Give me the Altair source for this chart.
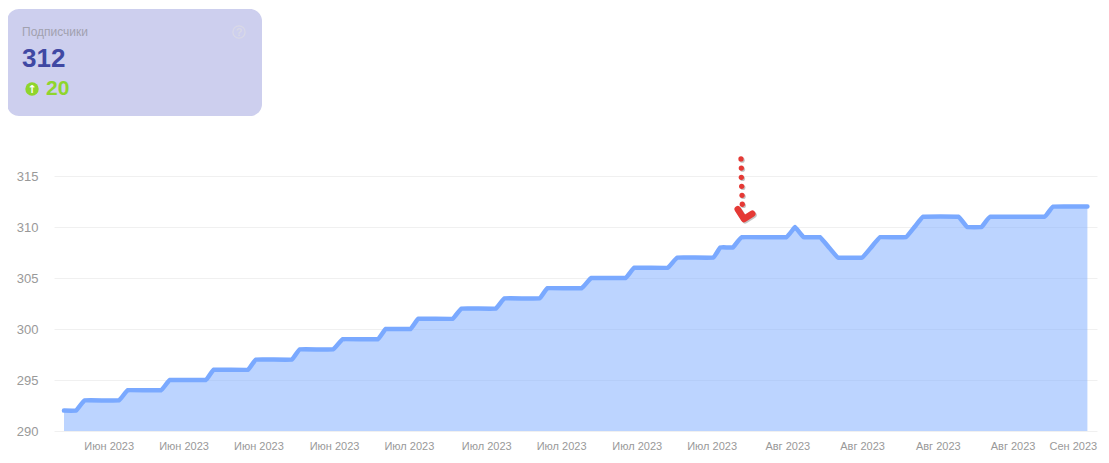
import altair as alt
import pandas as pd

# Series vertices: day position and subscriber count
days = [-0.0, 1.4, 2.4, 6.4, 7.4, 11.3, 12.3, 16.5, 17.4, 21.4, 22.3, 26.5, 27.4, 31.3, 32.4,
        36.5, 37.4, 40.3, 41.2, 45.2, 46.2, 50.2, 51.2, 55.3, 56.2, 60.2, 61.3, 65.3, 66.3,
        70.2, 71.3, 75.5, 76.3, 77.8, 78.8, 84.0, 85.0, 86.0, 87.9, 88.95, 90.0, 92.8, 93.85, 94.9,
        97.9, 98.9, 99.9, 104.0, 105.0, 106.7, 107.7, 114.0, 115.0, 119.0]
subs = [292, 292, 293, 293, 294, 294, 295, 295, 296, 296, 297, 297, 298, 298, 299,
        299, 300, 300, 301, 301, 302, 302, 303, 303, 304, 304, 305, 305, 306,
        306, 307, 307, 308, 308, 309, 309, 310, 309, 309, 308, 307, 307, 308, 309,
        309, 310, 311, 311, 310, 310, 311, 311, 312, 312]

tick_days = [5.2, 13.9, 22.6, 31.4, 40.1, 49.1, 57.8, 66.6, 75.3, 84.1, 92.8, 101.6, 110.3, 117.3]
tick_labels = ["Июн 2023"] * 4 + ["Июл 2023"] * 5 + ["Авг 2023"] * 4 + ["Сен 2023"]
y_ticks = [290, 295, 300, 305, 310, 315]

# Hand-drawn red arrow, in data units
dot_days = [78.72, 78.76, 78.76, 78.80, 78.84, 78.87]
dot_vals = [316.67, 315.78, 314.87, 313.99, 313.11, 312.23]
head_days = [78.34, 79.07, 80.03]
head_vals = [311.74, 310.78, 311.30]

FONT = "Liberation Sans"
X_DOMAIN = [-1.163, 120.116]
Y_DOMAIN = [290, 315]

df = pd.DataFrame({"day": days, "subs": subs})
dots = pd.DataFrame({"day": dot_days, "subs": dot_vals})
head = pd.DataFrame({"day": head_days, "subs": head_vals, "o": [0, 1, 2]})

label_map = "{" + ",".join(f"'{d}':'{l}'" for d, l in zip(tick_days, tick_labels)) + "}"
x_enc = alt.X("day:Q", scale=alt.Scale(domain=X_DOMAIN, nice=False, zero=False), title=None,
              axis=alt.Axis(values=tick_days, labelExpr=f"{label_map}[toString(datum.value)]",
                            grid=False, ticks=False, domain=False, labelFont=FONT, labelFontSize=11,
                            labelColor="#999999", labelPadding=9, labelOverlap=False, labelFlush=False))
y_enc = alt.Y("subs:Q", scale=alt.Scale(domain=Y_DOMAIN, nice=False, zero=False), title=None,
              axis=alt.Axis(values=y_ticks, grid=True, gridColor="#f0f0f0", gridWidth=1, ticks=False,
                            domain=False, labelFont=FONT, labelFontSize=13, labelColor="#999999",
                            labelPadding=16))

base = alt.Chart(df)
area = base.mark_area(color="#7aa9ff", opacity=0.5, interpolate="cardinal", tension=0.85, clip=True).encode(x=x_enc, y=y_enc)
line = base.mark_line(color="#7aa9ff", strokeWidth=4.5, strokeCap="round", strokeJoin="round",
                      interpolate="cardinal", tension=0.85).encode(x="day:Q", y="subs:Q")

dot_shadow = alt.Chart(dots).mark_circle(color="#c4c4c4", size=26, opacity=1, xOffset=1.2, yOffset=1.2).encode(x="day:Q", y="subs:Q")
dot_layer = alt.Chart(dots).mark_circle(color="#e53935", size=28, opacity=1).encode(x="day:Q", y="subs:Q")
head_shadow = alt.Chart(head).mark_line(color="#c4c4c4", strokeWidth=6.5, strokeCap="round", strokeJoin="round",
                                        xOffset=1.2, yOffset=1.2).encode(x="day:Q", y="subs:Q", order="o:Q")
head_layer = alt.Chart(head).mark_line(color="#e53935", strokeWidth=6.5, strokeCap="round", strokeJoin="round",
                                       ).encode(x="day:Q", y="subs:Q", order="o:Q")

OX, OY = 54, 176  # page position of the plot origin
one = alt.Data(values=[{"a": 1}])


def px(v):
    return alt.value(v - OX)


def py(v):
    return alt.value(v - OY)


card = alt.Chart(one).mark_rect(color="#cdcfee", cornerRadius=12).encode(x=px(7), x2=px(262), y=py(9), y2=py(116))


def label(text, x, y, font=FONT, align="left", **kw):
    return alt.Chart(one).mark_text(text=text, align=align, baseline="alphabetic", font=font, **kw).encode(x=px(x), y=py(y))


t_title = label("Подписчики", 22, 36, fontSize=12, color="#a1a1ae")
t_value = label("312", 22, 67, fontSize=26, fontWeight="bold", color="#3f48a3")
t_delta = label("20", 46, 95, fontSize=21, fontWeight="bold", color="#8fd52c")
up_circle = alt.Chart(one).mark_circle(color="#8fd52c", size=180, opacity=1).encode(x=px(32), y=py(89))
up_arrow = label("↑", 32, 93, font="DejaVu Sans", align="center", fontSize=11, fontWeight="bold", color="#ffffff")
help_circle = alt.Chart(one).mark_point(color="#d9d9e6", size=150, opacity=1, filled=False, strokeWidth=1.2).encode(x=px(239), y=py(32))
help_mark = label("?", 239, 36, align="center", fontSize=11, fontWeight="bold", color="#d9d9e6")

chart = alt.layer(
    area, line, dot_shadow, head_shadow, dot_layer, head_layer,
    card, t_title, t_value, t_delta, up_circle, up_arrow, help_circle, help_mark,
).properties(
    width=1043, height=255, autosize="none",
    padding={"left": 46, "top": 168, "right": 4, "bottom": 24},
).configure_view(stroke=None)

chart.save("out.html", embed_options={"renderer": "svg", "actions": False})
